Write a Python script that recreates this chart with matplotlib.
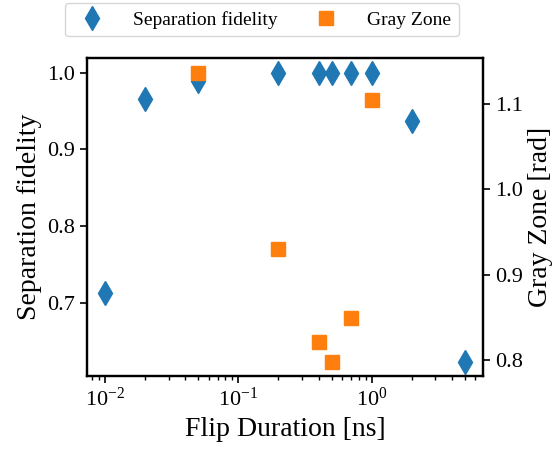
import matplotlib
matplotlib.use("Agg")
import matplotlib.pyplot as plt

plt.rcParams['font.family'] = ['Liberation Serif', 'DejaVu Serif']
plt.rcParams['mathtext.fontset'] = 'cm'

# flip duration [ns]
fid_x = [0.01, 0.02, 0.05, 0.2, 0.4, 0.5, 0.7, 1.0, 2.0, 5.0]
fid_y = [0.714, 0.965, 0.989, 1.0, 1.0, 1.0, 1.0, 1.0, 0.937, 0.624]

gz_x = [0.05, 0.2, 0.4, 0.5, 0.7, 1.0]
gz_y = [1.137, 0.930, 0.821, 0.798, 0.849, 1.105]

fig = plt.figure(figsize=(5.57, 4.5), dpi=100)
ax = fig.add_axes([0.156, 0.164, 0.711, 0.707])
ax2 = ax.twinx()

l1, = ax.plot(fid_x, fid_y, 'd', color='tab:blue', markersize=12, label='Separation fidelity')
l2, = ax2.plot(gz_x, gz_y, 's', color='tab:orange', markersize=10, label='Gray Zone')

ax.set_xscale('log')
ax.set_xlabel('Flip Duration [ns]', fontsize=20)
ax.set_ylabel('Separation fidelity', fontsize=20)
ax2.set_ylabel('Gray Zone [rad]', fontsize=20)
ax.set_yticks([0.7, 0.8, 0.9, 1.0])
ax2.set_yticks([0.8, 0.9, 1.0, 1.1])
for a in (ax, ax2):
    a.tick_params(labelsize=16, width=1.2, length=5)
    a.tick_params(which='minor', width=1.0, length=3)
    for s in a.spines.values():
        s.set_linewidth(1.6)

fig.legend(handles=[l1, l2], loc='upper center', bbox_to_anchor=(0.47, 1.015), ncol=2,
           fontsize=14, handletextpad=1.1, columnspacing=1.5, frameon=True)

fig.savefig('out.png', dpi=100)
